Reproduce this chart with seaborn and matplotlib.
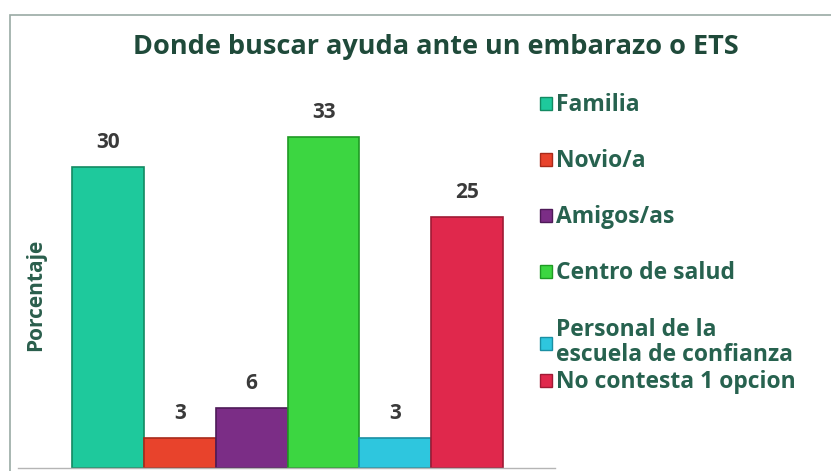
import seaborn as sns
import matplotlib.pyplot as plt
from matplotlib.patches import Rectangle

# data
categorias = ['Familia', 'Novio/a', 'Amigos/as', 'Centro de salud',
              'Personal de la\nescuela de confianza', 'No contesta 1 opcion']
porcentajes = [30, 3, 6, 33, 3, 25]
colores = ['#1ec99c', '#e8432c', '#7b2d86', '#3cd641', '#2ec6de', '#e0284c']
bordes = ['#138a62', '#a82a1a', '#4e1a58', '#1f9a24', '#1a8fa3', '#a01a35']

sns.set_style('white')
plt.rcParams['font.family'] = ['Open Sans', 'DejaVu Sans']

fig = plt.figure(figsize=(8.31, 4.71), dpi=100)
ax = fig.add_axes([18/831, 3/471, 537/831, 358/471])

sns.barplot(x=categorias, y=porcentajes, hue=categorias, palette=colores,
            width=1.0, dodge=False, legend=True, ax=ax, saturation=1)

for bar, ec in zip(ax.patches, bordes):
    bar.set_edgecolor(ec)
    bar.set_linewidth(1.2)

for cont in ax.containers:
    ax.bar_label(cont, padding=10, fontsize=15, fontweight='bold', color='#3a3a3a')

ax.set_xlim(-1.25, 6.22)
ax.set_ylim(0, 35.7)
ax.set_xticks([])
ax.set_yticks([])
ax.set_xlabel('')
ax.set_ylabel('Porcentaje', fontsize=15, fontweight='bold', color='#2a5e4c')
ax.yaxis.set_label_coords(0.052, 0.483)
for s in ['top', 'right', 'left']:
    ax.spines[s].set_visible(False)
ax.spines['bottom'].set_color('#b5b5b5')
ax.spines['bottom'].set_linewidth(1)

# legend: first five entries, then the last one placed just under the two-line entry
handles, labels = ax.get_legend_handles_labels()
ley_kw = dict(bbox_transform=fig.transFigure, frameon=False,
              prop={'weight': 'bold', 'size': 16.5},
              handlelength=0.5, handleheight=0.5, handletextpad=0.2,
              labelspacing=1.4, borderaxespad=0, loc='upper left')
leg1 = ax.legend(handles[:5], labels[:5], bbox_to_anchor=(531/831, 1 - 84/471), **ley_kw)
ax.add_artist(leg1)
leg2 = ax.legend(handles[5:], labels[5:], bbox_to_anchor=(531/831, 1 - 361/471), **ley_kw)
for leg in (leg1, leg2):
    for t in leg.get_texts():
        t.set_color('#27624f')
        t.set_linespacing(1.1)
for h, ec in zip(leg1.legend_handles + leg2.legend_handles, bordes):
    h.set_edgecolor(ec)

fig.text(436/831, 1 - 47/471, 'Donde buscar ayuda ante un embarazo o ETS',
         ha='center', va='center', fontsize=19.5, fontweight='bold', color='#1f4a3a')

fig.patches.append(Rectangle((10/831, -0.05), 1.2, 1 - 15/471 + 0.05,
                             transform=fig.transFigure, fill=False,
                             edgecolor='#9aaaa4', linewidth=1.2))

fig.savefig('out.png', dpi=100)
